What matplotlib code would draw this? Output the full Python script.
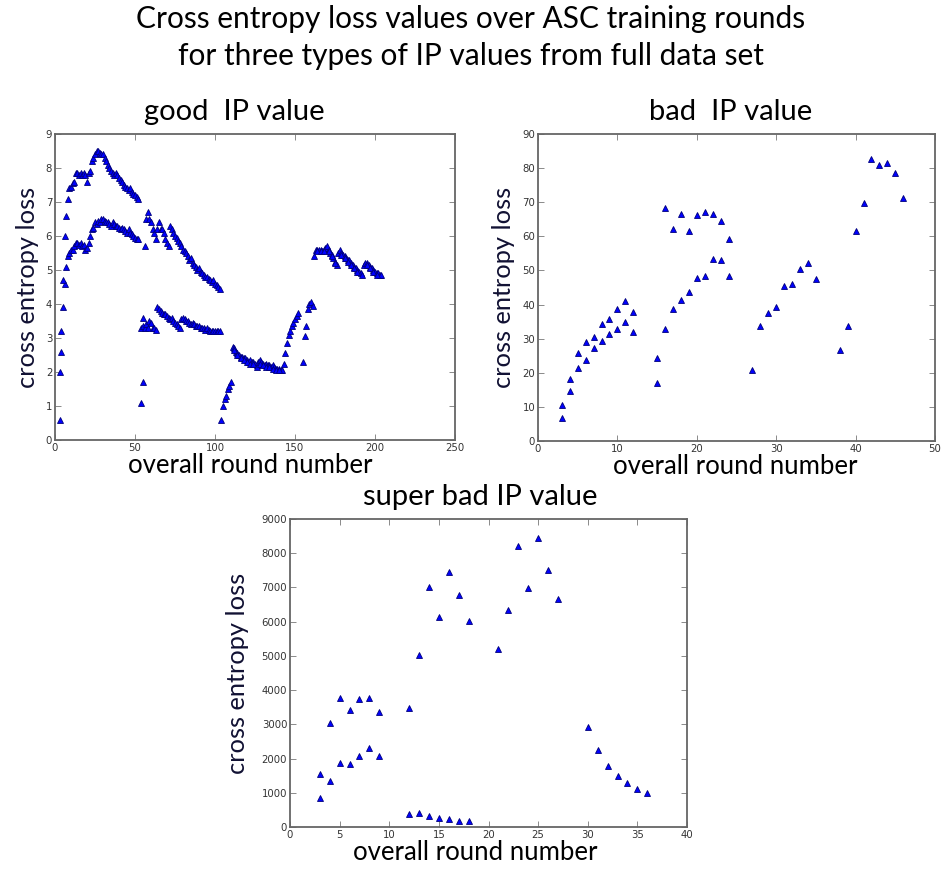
import matplotlib
matplotlib.use("Agg")
import matplotlib.pyplot as plt

# ---------------- good IP value ----------------
good_a_x = list(range(3, 53))
good_a_low = [0.6, 2.6, 3.9, 4.6, 5.1, 5.4, 5.5, 5.6, 5.6, 5.7,
              5.8, 5.8, 5.75, 5.8, 5.7, 5.75, 5.6, 5.65, 5.8, 6.0,
              6.2, 6.25, 6.4, 6.35, 6.45, 6.4, 6.5, 6.5, 6.45, 6.4,
              6.4, 6.35, 6.3, 6.4, 6.35, 6.3, 6.3, 6.25, 6.2, 6.25,
              6.2, 6.15, 6.1, 6.2, 6.1, 6.05, 6.0, 5.95, 5.9, 5.9]
good_a_high = [2.0, 3.2, 4.7, 6.0, 6.6, 7.1, 7.4, 7.45, 7.55, 7.6,
               7.85, 7.85, 7.8, 7.85, 7.8, 7.85, 7.8, 7.6, 7.85, 7.9,
               8.2, 8.3, 8.4, 8.5, 8.5, 8.45, 8.4, 8.4, 8.3, 8.2,
               8.1, 8.0, 7.9, 7.85, 7.8, 7.85, 7.8, 7.7, 7.65, 7.6,
               7.5, 7.45, 7.4, 7.35, 7.4, 7.3, 7.25, 7.2, 7.15, 7.1]

good_b_x = list(range(54, 104))
good_b_low = [3.3, 3.35, 3.3, 3.4, 3.3, 3.5, 3.45, 3.3, 3.3, 3.25,
              3.9, 3.85, 3.8, 3.75, 3.7, 3.7, 3.65, 3.6, 3.55, 3.6,
              3.5, 3.45, 3.4, 3.35, 3.3, 3.55, 3.6, 3.55, 3.5, 3.5,
              3.45, 3.4, 3.45, 3.4, 3.35, 3.35, 3.35, 3.3, 3.3, 3.3,
              3.25, 3.3, 3.25, 3.2, 3.2, 3.2, 3.2, 3.2, 3.2, 3.2]
good_b_high_x = list(range(56, 104))
good_b_high = [5.7, 6.5, 6.7, 6.5, 6.4, 6.2, 6.1, 5.9, 6.2, 6.4,
               6.2, 6.2, 6.1, 5.9, 5.8, 5.7, 6.3, 6.2, 6.1, 6.0,
               5.95, 5.85, 5.8, 5.7, 5.6, 5.55, 5.5, 5.4, 5.3, 5.35,
               5.2, 5.15, 5.1, 5.0, 5.05, 4.95, 4.9, 4.85, 4.8, 4.8,
               4.75, 4.7, 4.65, 4.7, 4.6, 4.55, 4.5, 4.45]
good_b_extra_x = [54, 55, 55]
good_b_extra_y = [1.1, 1.7, 3.6]

good_c_x = list(range(104, 111))
good_c_y = [0.6, 1.0, 1.2, 1.3, 1.5, 1.6, 1.7]

good_d_x = list(range(111, 143))
good_d_y = [2.75, 2.7, 2.6, 2.55, 2.5, 2.45, 2.45, 2.4, 2.4, 2.35,
            2.3, 2.35, 2.3, 2.3, 2.25, 2.2, 2.3, 2.35, 2.3, 2.25,
            2.2, 2.25, 2.2, 2.2, 2.15, 2.2, 2.15, 2.1, 2.1, 2.1,
            2.05, 2.05]
good_d2_x = [112, 114, 116, 118, 120, 122, 124, 126, 128, 130, 132, 134, 136, 138, 140]
good_d2_y = [2.65, 2.5, 2.4, 2.35, 2.3, 2.25, 2.25, 2.15, 2.25, 2.2, 2.15, 2.15, 2.1, 2.05, 2.05]

good_e_x = list(range(143, 153)) + list(range(155, 162))
good_e_y = [2.25, 2.55, 2.85, 3.1, 3.2, 3.35, 3.45, 3.55, 3.65, 3.75,
            2.3, 3.05, 3.35, 3.85, 4.0, 4.05, 3.95]

good_f_x = list(range(162, 205))
good_f_y = [5.4, 5.6, 5.6, 5.6, 5.6, 5.55, 5.6, 5.65, 5.7, 5.6,
            5.5, 5.45, 5.35, 5.25, 5.15, 5.5, 5.6, 5.5, 5.45, 5.4,
            5.35, 5.3, 5.3, 5.2, 5.15, 5.1, 5.05, 5.0, 4.95, 4.9,
            4.85, 5.15, 5.2, 5.2, 5.15, 5.1, 5.05, 5.0, 4.95, 4.9,
            4.9, 4.85, 4.85]
good_f2_x = [164, 166, 168, 171, 173, 175, 179, 181, 183, 185, 187, 189, 195, 197, 199, 201]
good_f2_y = [5.55, 5.55, 5.55, 5.55, 5.4, 5.2, 5.45, 5.35, 5.25, 5.15, 5.05, 4.95, 5.15, 5.05, 4.95, 4.85]

# ---------------- bad IP value ----------------
bad_x = [3, 3, 4, 4, 5, 5, 6, 6, 7, 7, 8, 8, 9, 9, 10, 10, 11, 11, 12, 12,
         15, 15, 16, 16, 17, 17, 18, 18, 19, 19, 20, 20, 21, 21, 22, 22,
         23, 23, 24, 24, 27, 28, 29, 30, 31, 32, 33, 34, 35,
         38, 39, 40, 41, 42, 43, 44, 45, 46]
bad_y = [10.5, 6.8, 18.2, 14.6, 25.9, 21.3, 29.0, 23.7, 30.6, 27.4,
         34.2, 29.4, 35.7, 31.3, 38.7, 32.8, 41.1, 35.0, 37.7, 32.1,
         24.3, 17.1, 68.4, 32.9, 62.1, 38.7, 66.5, 41.4, 61.5, 43.8,
         66.2, 47.8, 67.0, 48.4, 66.5, 53.4, 64.6, 53.0, 59.2, 48.5,
         20.7, 33.6, 37.6, 39.3, 45.3, 46.1, 50.3, 52.3, 47.6,
         26.8, 33.8, 61.7, 69.8, 82.8, 80.8, 81.4, 78.6, 71.3]

# ---------------- super bad IP value ----------------
sbad_x = [3, 3, 4, 4, 5, 5, 6, 6, 7, 7, 8, 8, 9, 9,
          12, 12, 13, 13, 14, 14, 15, 15, 16, 16, 17, 17, 18, 18,
          21, 22, 23, 24, 25, 26, 27,
          30, 31, 32, 33, 34, 35, 36]
sbad_y = [1549, 838, 3029, 1344, 3760, 1870, 3419, 1851, 3731, 2084,
          3780, 2318, 3370, 2074,
          3477, 380, 5016, 399, 7014, 321, 6137, 253, 7462, 234, 6779, 185, 6019, 166,
          5192, 6341, 8210, 6993, 8435, 7500, 6652,
          2932, 2240, 1792, 1490, 1286, 1120, 1003]

suptitle_lines = ["Cross entropy loss values over ASC training rounds",
                  "for three types of IP values from full data set"]
titles = ["good  IP value", "bad  IP value", "super bad IP value"]
xlabel = "overall round number"
ylabel = "cross entropy loss"

FONT = "Lato"
W, H = 942, 869
fig = plt.figure(figsize=(W / 100, H / 100), dpi=100)


def ax_at(l, t, r, b):
    return fig.add_axes([l / W, 1 - b / H, (r - l) / W, (b - t) / H])


ax1 = ax_at(55, 134, 455, 440)
ax2 = ax_at(538, 134, 935, 441)
ax3 = ax_at(290, 519, 687, 827)

mk = dict(marker="^", linestyle="none", color="#0000ff", markeredgecolor="#00007a",
          markeredgewidth=0.6, markersize=4.4)

for xs, ys in [(good_a_x, good_a_low), (good_a_x, good_a_high),
               (good_b_x, good_b_low), (good_b_high_x, good_b_high),
               (good_b_extra_x, good_b_extra_y), (good_c_x, good_c_y),
               (good_d_x, good_d_y), (good_d2_x, good_d2_y),
               (good_e_x, good_e_y), (good_f_x, good_f_y), (good_f2_x, good_f2_y)]:
    ax1.plot(xs, ys, **mk)
ax1.set_xlim(0, 250)
ax1.set_ylim(0, 9)
ax1.set_xticks([0, 50, 100, 150, 200, 250])
ax1.set_yticks(range(0, 10))

ax2.plot(bad_x, bad_y, **mk)
ax2.set_xlim(0, 50)
ax2.set_ylim(0, 90)
ax2.set_xticks(range(0, 51, 10))
ax2.set_yticks(range(0, 91, 10))

ax3.plot(sbad_x, sbad_y, **mk)
ax3.set_xlim(0, 40)
ax3.set_ylim(0, 9000)
ax3.set_xticks(range(0, 41, 5))
ax3.set_yticks(range(0, 9001, 1000))

title_x = [0.4475, 0.486, 0.479]
xlabel_x = [0.4875, 0.496, 0.466]
ylabel_pad = [5, 5, 9]
for ax, t, tx, lx, lp in zip([ax1, ax2, ax3], titles, title_x, xlabel_x, ylabel_pad):
    for s in ax.spines.values():
        s.set_color("#666666")
        s.set_linewidth(1.3)
    ax.tick_params(direction="in", top=True, right=True, length=4, width=0.6,
                   color="#777777", labelsize=7.3, labelcolor="#333333", pad=2)
    ax.set_xlabel(xlabel, fontsize=18.5, family=FONT, labelpad=0)
    ax.xaxis.label.set_x(lx)
    ax.set_ylabel(ylabel, fontsize=18.3, family=FONT, labelpad=lp, color="#111133")
    ax.set_title(t, fontsize=21, family=FONT, pad=10, x=tx)

fig.text(0.5, 1 - 19 / H, suptitle_lines[0], ha="center", va="center", fontsize=21.5, family=FONT)
fig.text(0.5, 1 - 56 / H, suptitle_lines[1], ha="center", va="center", fontsize=21.5, family=FONT)

fig.savefig("out.png", dpi=100, facecolor="white")
